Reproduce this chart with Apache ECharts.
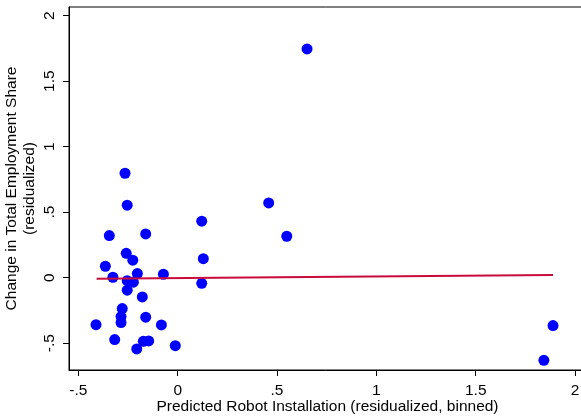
<!DOCTYPE html>
<html>
<head>
<meta charset="utf-8">
<script src="https://cdn.jsdelivr.net/npm/echarts@6/dist/echarts.min.js"></script>
<style>
  html, body { margin: 0; padding: 0; background: #fff; }
  #chart { width: 581px; height: 418px; }
</style>
</head>
<body>
<div id="chart"></div>
<script>
// binned scatter
const robotX = [
  -0.265, -0.254, -0.344, -0.161, -0.259, -0.226, -0.364, -0.326, -0.203, -0.072,
  -0.254, -0.223, -0.254, -0.178, -0.279, -0.285, -0.285, -0.161, -0.411, -0.082,
  -0.317, -0.173, -0.146, -0.206, -0.012, 0.121, 0.129, 0.121, 0.458, 0.549,
  0.651, 1.889, 1.843
];
const employmentY = [
  0.797, 0.553, 0.321, 0.334, 0.186, 0.133, 0.087, 0.003, 0.031, 0.026,
  -0.023, -0.035, -0.096, -0.147, -0.236, -0.297, -0.343, -0.302, -0.359, -0.361,
  -0.473, -0.486, -0.483, -0.544, -0.519, 0.431, 0.145, -0.043, 0.570, 0.316,
  1.746, -0.366, -0.631
];

// fitted line end points
const fitX = [-0.408, 1.889];
const fitY = [-0.008, 0.021];

const xTicks = [-0.5, 0, 0.5, 1, 1.5, 2];
const yTicks = [-0.5, 0, 0.5, 1, 1.5, 2];

// stata style labels: -.5, .5
function stataLabel(v) {
  return String(v).replace(/^(-?)0\./, '$1.');
}

const font = 'Liberation Sans, Arial, sans-serif';

const chart = echarts.init(document.getElementById('chart'));
chart.setOption({
  animation: false,
  grid: {
    left: 69,
    top: 7,
    right: -5,
    bottom: 48,
    outerBoundsMode: 'none',
    containLabel: false,
    show: true,
    borderColor: '#000',
    borderWidth: 1
  },
  xAxis: {
    type: 'value',
    min: -0.547,
    max: 2.055,
    splitLine: { show: false },
    axisLine: { onZero: false, lineStyle: { color: '#000', width: 1 } },
    axisTick: { length: 6, customValues: xTicks, lineStyle: { color: '#000' } },
    axisLabel: {
      customValues: xTicks,
      formatter: stataLabel,
      margin: 13,
      color: '#000',
      fontSize: 15.5,
      fontFamily: font
    },
    name: 'Predicted Robot Installation (residualized, binned)',
    nameLocation: 'middle',
    nameGap: 29,
    nameMoveOverlap: false,
    nameTextStyle: { color: '#000', fontSize: 15.5, fontFamily: font }
  },
  yAxis: {
    type: 'value',
    min: -0.705,
    max: 2.066,
    splitLine: { show: false },
    axisLine: { onZero: false, lineStyle: { color: '#000', width: 1 } },
    axisTick: { length: 6, customValues: yTicks, lineStyle: { color: '#000' } },
    axisLabel: {
      customValues: yTicks,
      formatter: stataLabel,
      rotate: 90,
      margin: 11,
      color: '#000',
      fontSize: 15.5,
      fontFamily: font
    },
    name: 'Change in Total Employment Share\n(residualized)',
    nameLocation: 'middle',
    nameGap: 30,
    nameMoveOverlap: false,
    nameTextStyle: { color: '#000', fontSize: 15.5, lineHeight: 18, fontFamily: font }
  },
  series: [
    {
      type: 'line',
      data: fitX.map((x, i) => [x, fitY[i]]),
      showSymbol: false,
      lineStyle: { color: '#c80a3c', width: 2 },
      z: 3
    },
    {
      type: 'scatter',
      data: robotX.map((x, i) => [x, employmentY[i]]),
      symbolSize: 11,
      itemStyle: { color: '#0000ff', opacity: 1 },
      z: 2
    }
  ]
});
</script>
</body>
</html>
